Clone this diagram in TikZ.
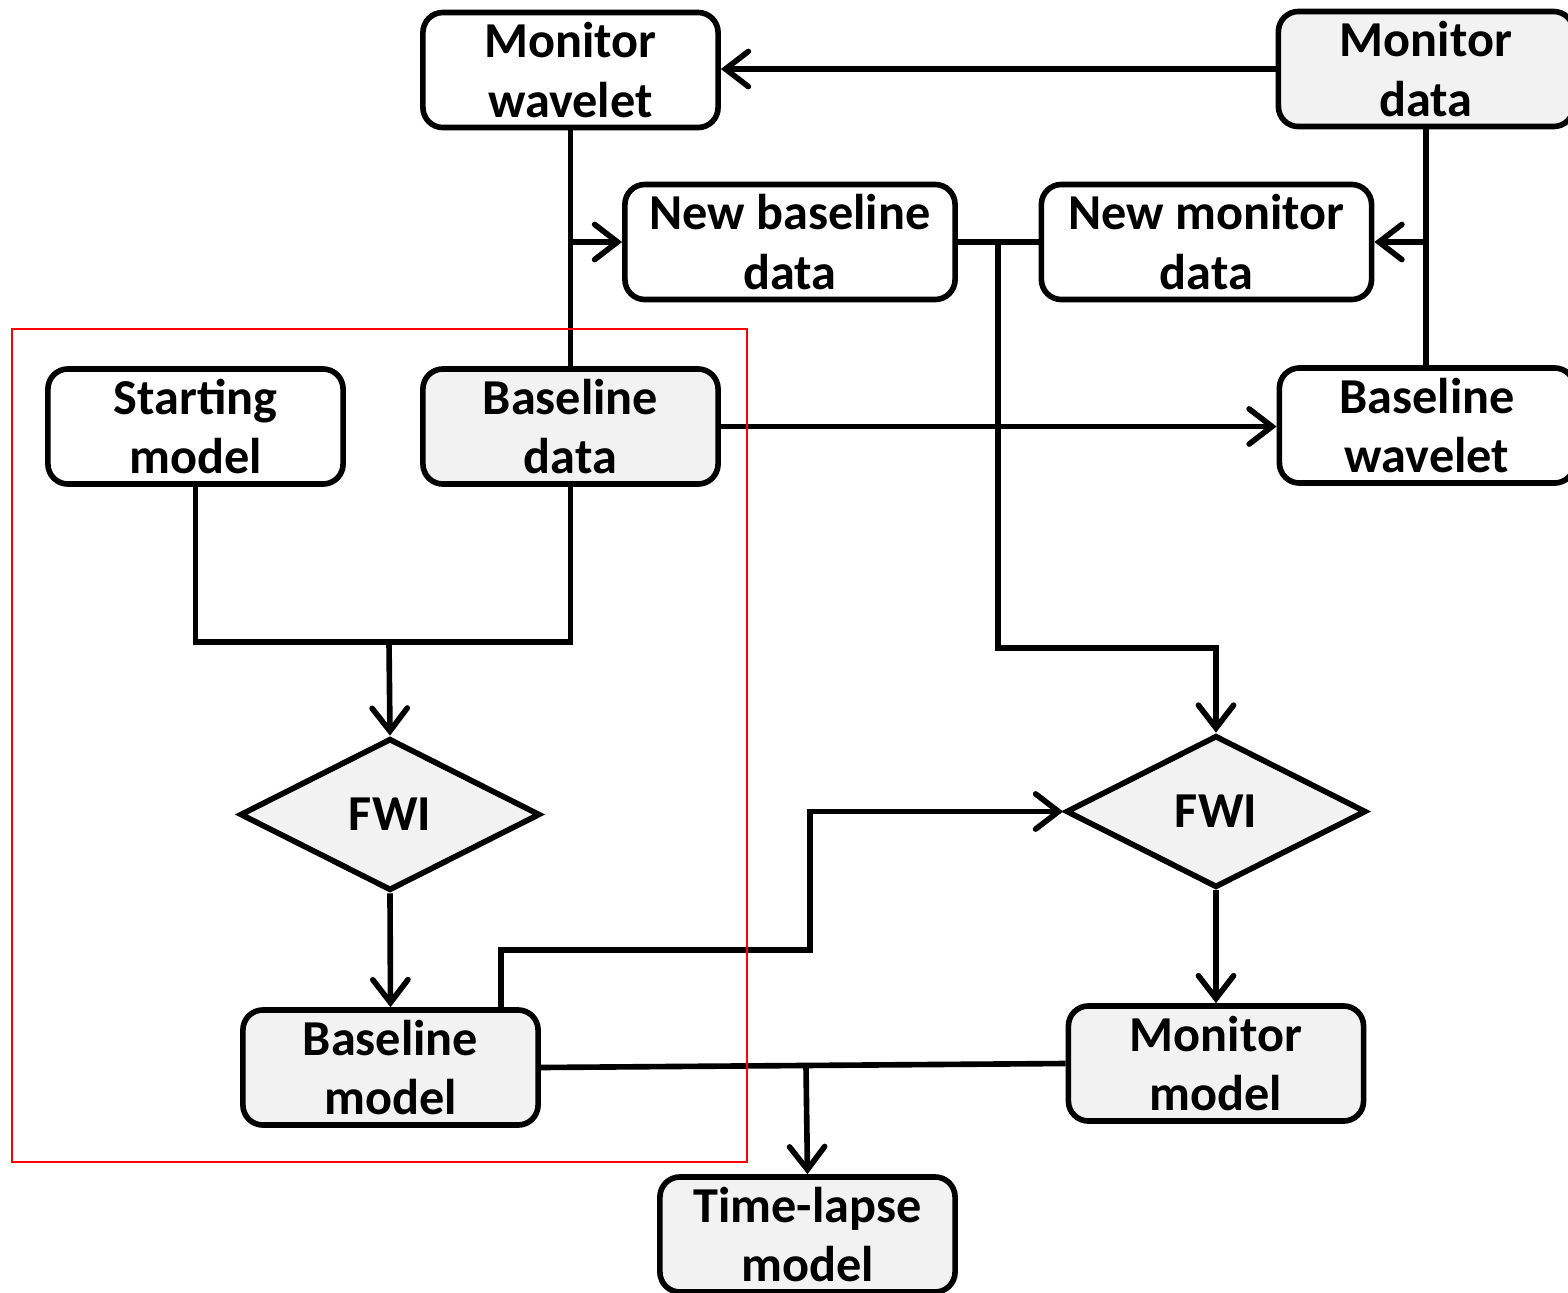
\documentclass[tikz,border=0pt]{standalone}
\usepackage{fontspec}
\setmainfont{Carlito}
\usetikzlibrary{arrows.meta,shapes.geometric,calc}
\definecolor{gfill}{HTML}{F2F2F2}
\begin{document}
\begin{tikzpicture}[x=0.01cm,y=-0.01cm,
  every node/.style={font=\fontsize{14.3}{16.9}\selectfont\bfseries},
  box/.style={draw, line width=1.6pt, rounded corners=0.2cm, align=center,
    minimum width=2.95cm, minimum height=1.15cm, inner sep=0pt, fill=white},
  wbox/.style={box, minimum width=3.30cm},
  gbox/.style={box, fill=gfill},
  dia/.style={draw, diamond, line width=1.6pt, fill=gfill, inner sep=0pt,
    minimum width=3.0cm, minimum height=1.52cm},
  ln/.style={line width=1.6pt},
  arr/.style={line width=1.6pt, -{Straight Barb[length=6.5pt,width=10pt,line cap=round]}}
]
\useasboundingbox (0,0) rectangle (1568,1293);

\node[box]  (mw)  at (570.5,70)    {Monitor\\wavelet};
\node[gbox] (md)  at (1426,69)     {Monitor\\data};
\node[wbox] (nbd) at (790,242)     {New baseline\\data};
\node[wbox] (nmd) at (1206.5,242)  {New monitor\\data};
\node[box]  (sm)  at (195.5,426.5) {Starting\\model};
\node[gbox] (bd)  at (570.5,426.5) {Baseline\\data};
\node[box]  (bw)  at (1427,425.5)  {Baseline\\wavelet};
\node[dia]  (f1)  at (390,814.5)   {FWI};
\node[dia]  (f2)  at (1216,811.5)  {FWI};
\node[gbox] (bm)  at (390.5,1067.5) {Baseline\\model};
\node[gbox] (mm)  at (1216,1063.5) {Monitor\\model};
\node[gbox] (tl)  at (807.5,1234.5) {Time-lapse\\model};

\coordinate (j1) at (998,242);
\coordinate (j2) at (389,642);
\coordinate (j3) at (501,950);
\coordinate (k)  at (810,950);
\coordinate (j4) at (806,1065.5);

% top part
\draw[arr] (md.west) -- (md.west -| mw.east);
\draw[ln] (mw.south) -- (bd.north);
\draw[arr] (mw.south |- nbd.west) -- (nbd.west);
\draw[ln] (md.south) -- (md.south |- bw.north);
\draw[arr] (md.south |- nmd.east) -- (nmd.east);
\draw[ln] (nbd.east) -- (nmd.west);
\draw[arr] (j1) -- (j1 |- 0,648) -| (f2.north);
\draw[arr] (bd.east) -- (bd.east -| bw.west);

% left column
\draw[ln] (sm.south) -- (sm.south |- j2) -- (bd.south |- j2) -- (bd.south);
\draw[arr] (j2) -- (f1.north);
\draw[arr] (f1.south) -- (bm.north);
\draw[arr] (j3 |- bm.north) -- (j3) -- (k) |- (f2.west);

% right column and bottom
\draw[arr] (f2.south) -- (mm.north);
\draw[ln] (bm.east) -- (mm.west);
\draw[arr] (j4) -- (tl.north);

% red frame
\draw[red, line width=0.45pt] (12,329) rectangle (747,1162);
\end{tikzpicture}
\end{document}
